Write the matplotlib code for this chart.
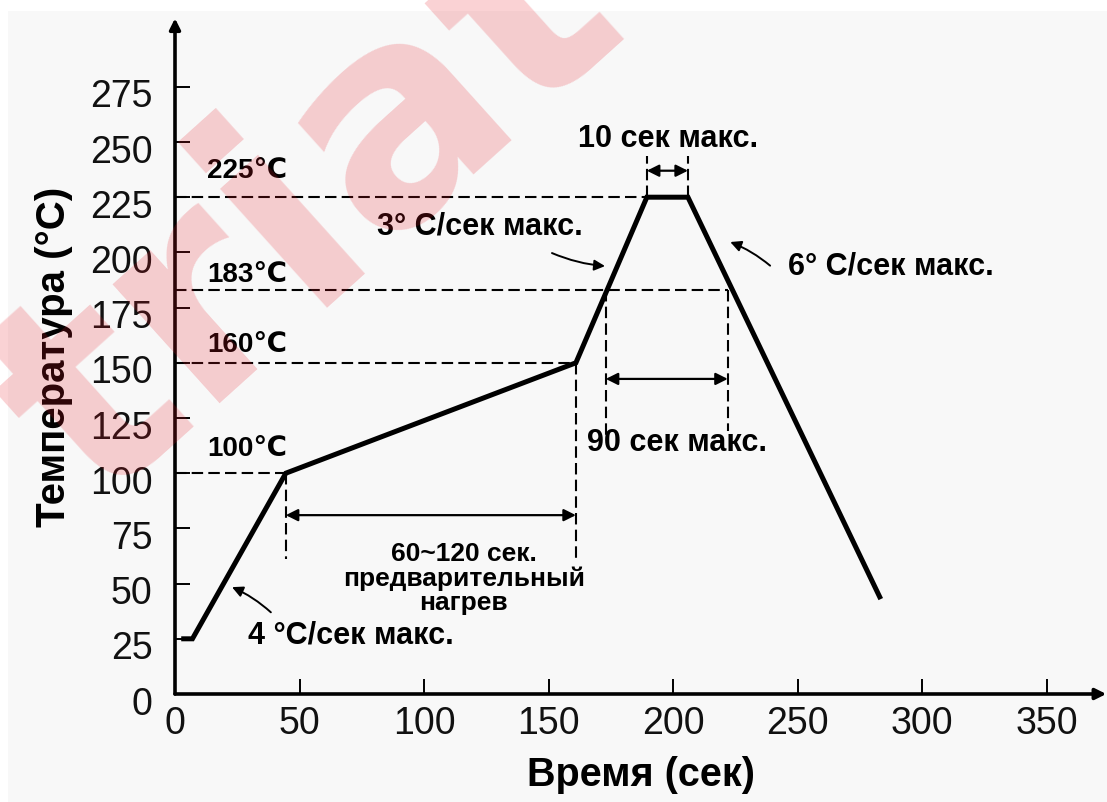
import matplotlib
matplotlib.use("Agg")
import matplotlib.pyplot as plt
from matplotlib.patches import Rectangle
from matplotlib.transforms import ScaledTranslation

# reflow profile (time, s / temperature, C)
time_s = [3.5, 7, 44.5, 161, 189.5, 206, 283]
temp_c = [25, 25, 100, 150, 225, 225, 44]

x_ticks = [0, 50, 100, 150, 200, 250, 300, 350]
y_ticks = [0, 25, 50, 75, 100, 125, 150, 175, 200, 225, 250, 275]

# reference levels: temperature, label, where the dashed line ends
ref_temps = [225, 183, 150, 100]
ref_labels = ["225℃", "183℃", "160℃", "100℃"]
ref_ends = [189.5, 222, 161, 44.5]

# vertical dashed guides: (time, from temp, to temp)
guide_t = [44.5, 161, 173, 222, 189.5, 206]
guide_from = [100, 150, 183, 183, 225, 225]
guide_to = [61, 60, 117, 119, 243.5, 243.5]

# double arrows for durations: (t0, t1, temp)
span_t0 = [44.5, 173, 189.5]
span_t1 = [161, 222, 206]
span_temp = [81, 142.7, 237]

# slope notes
slope_labels = ["3° C/сек макс.", "6° C/сек макс.", "4 °C/сек макс."]
slope_text_xy = [(81, 212), (246, 194), (29.3, 27)]
slope_tail = [(151.4, 199.7), (239, 194), (38.5, 37)]
slope_head = [(172.7, 193.8), (223, 204.7), (22.9, 48.4)]

W, H = 1107, 803
fig = plt.figure(figsize=(W / 100, H / 100), dpi=100, facecolor="white")
fig.patches.append(Rectangle((8 / W, 0), 1, 1 - 12 / H, transform=fig.transFigure,
                             facecolor="#f8f8f8", edgecolor="none", zorder=-5))

x0, y0 = 175, 695
xs, ys = 2.49, 2.208
xmax, ymax = 374, 306
ax = fig.add_axes([x0 / W, (H - y0) / H, xmax * xs / W, ymax * ys / H])
ax.patch.set_alpha(0)
ax.set_xlim(0, xmax)
ax.set_ylim(0, ymax)
for s in ax.spines.values():
    s.set_visible(False)

# axes with arrow heads
arr = dict(arrowstyle="-|>", lw=2.6, color="black", mutation_scale=16, shrinkA=0, shrinkB=0)
ax.annotate("", xy=(xmax, 0), xytext=(0, 0), arrowprops=arr, annotation_clip=False)
ax.annotate("", xy=(0, ymax), xytext=(0, 0), arrowprops=arr, annotation_clip=False)

ax.set_xticks(x_ticks)
ax.set_yticks(y_ticks)
ax.tick_params(direction="in", length=11, width=1.4, color="black")
ax.tick_params(axis="x", pad=8)
ax.tick_params(axis="y", pad=16)
tick_font = dict(family="Liberation Sans", size=27, color="#111111")
ax.set_xticklabels([str(v) for v in x_ticks], **tick_font)
ax.set_yticklabels([str(v) for v in y_ticks], **tick_font)
for lab in ax.get_yticklabels():
    lab.set_transform(lab.get_transform() + ScaledTranslation(0, -4 / 72, fig.dpi_scale_trans))

ax.set_xlabel("Время (сек)", family="Liberation Sans", fontsize=28.5, fontweight="bold", labelpad=10)
ax.set_ylabel("Температура (°C)", family="Liberation Sans", fontsize=29, fontweight="bold", labelpad=12)

dash = dict(color="black", lw=1.5, dashes=(5.5, 2.5))
for T, lab, end, off in zip(ref_temps, ref_labels, ref_ends, [10, 2, 4, 9]):
    ax.plot([0, end], [T, T], **dash)
    ax.annotate(lab, (13, T), xytext=(0, off), textcoords="offset points",
                ha="left", va="bottom", fontsize=20, fontweight="bold",
                family=["Liberation Sans", "DejaVu Sans"])
for t, a, b in zip(guide_t, guide_from, guide_to):
    ax.plot([t, t], [a, b], **dash)

span_arr = dict(arrowstyle="<|-|>", lw=1.6, color="black", mutation_scale=18, shrinkA=0, shrinkB=0)
for a, b, T in zip(span_t0, span_t1, span_temp):
    ax.annotate("", xy=(b, T), xytext=(a, T), arrowprops=span_arr)

ax.plot(time_s, temp_c, color="black", lw=3.6, solid_joinstyle="miter", zorder=5)

note = dict(fontsize=22, fontweight="bold", family="Liberation Sans")
ax.text(198, 252, "10 сек макс.", ha="center", va="center", **note)
ax.text(201.6, 114, "90 сек макс.", ha="center", va="center", **note)
for lab, xy, tail, head in zip(slope_labels, slope_text_xy, slope_tail, slope_head):
    ax.text(xy[0], xy[1], lab, ha="left", va="center", **note)
    ax.annotate("", xy=head, xytext=tail,
                arrowprops=dict(arrowstyle="-|>", lw=1.4, color="black", mutation_scale=16,
                                shrinkA=0, shrinkB=0, connectionstyle="arc3,rad=0.08"))

ax.text(116, 52.8, "60~120 сек.\nпредварительный\nнагрев", ha="center", va="center",
        fontsize=19, fontweight="bold", family="Liberation Sans", linespacing=1.0)

# watermark
fig.text(97 / W, 1 - 510 / H, "triat", rotation=42, rotation_mode="anchor", ha="left", va="baseline",
         fontsize=210, fontweight="bold", family="DejaVu Sans",
         color=(0.9, 0.1, 0.15), alpha=0.2, zorder=20)

fig.savefig("out.png", dpi=100, facecolor="white")
